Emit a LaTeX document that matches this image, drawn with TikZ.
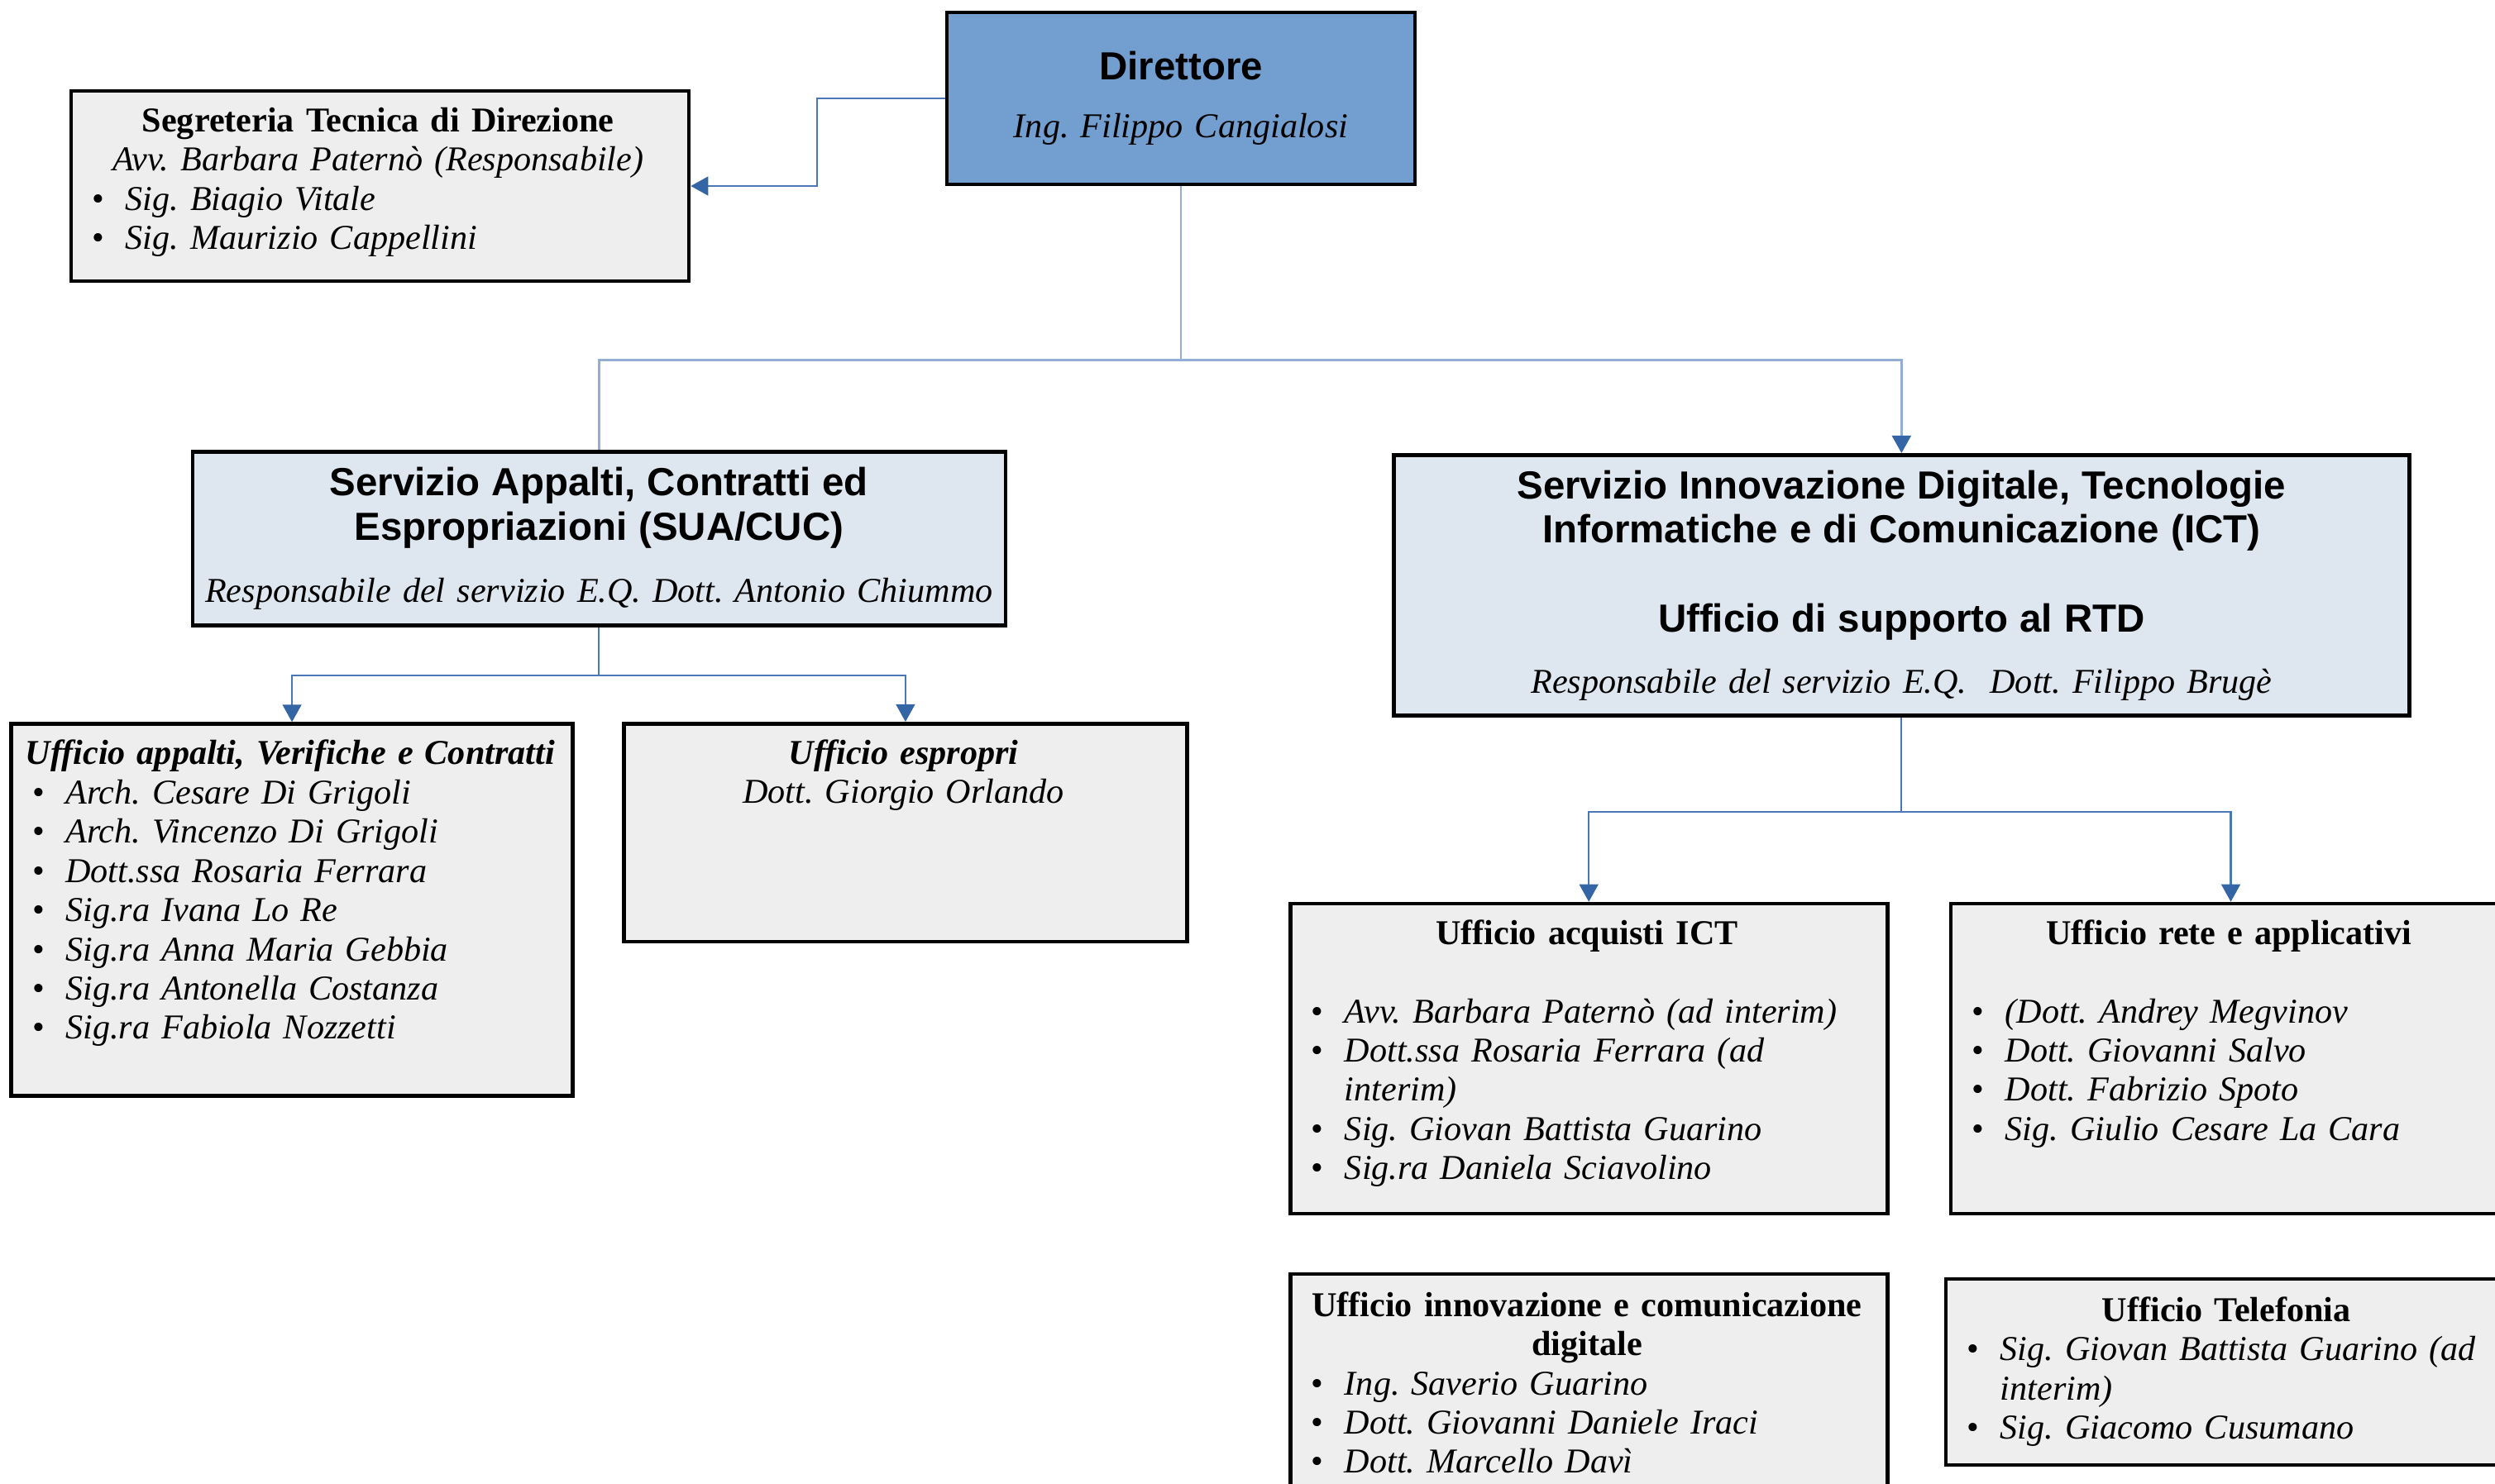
\documentclass[tikz,border=0pt]{standalone}
\usepackage{fontspec}
\setmainfont{Liberation Serif}
\newfontfamily\headfont{Liberation Sans}
\usepackage{tikz}
\usetikzlibrary{positioning,arrows.meta}
\frenchspacing

\definecolor{dirblue}{RGB}{114,159,207}
\definecolor{svcblue}{RGB}{222,230,239}
\definecolor{offgray}{RGB}{238,238,238}
\definecolor{linkblue}{RGB}{74,120,182}
\definecolor{trunkblue}{RGB}{146,174,212}
\definecolor{tipblue}{RGB}{52,101,164}

% list helpers for the office boxes
\newlength{\itmind}\setlength{\itmind}{0.48cm}
\newcommand{\ttl}[1]{\par\noindent\hbox to\hsize{\hss#1\hss}}
\newcommand{\itm}[1]{\par\noindent\hangindent=\itmind\hangafter=1%
  \hbox to\itmind{\hskip0.08cm\textbullet\hfil}{\itshape #1}}
\newcommand{\headline}{\headfont\bfseries\fontsize{13.5}{15.3}\selectfont}

\begin{document}
\begin{tikzpicture}[
    box/.style={draw, line width=1.3pt, inner sep=0pt, align=center,
                font=\fontsize{12}{13.5}\selectfont},
    headbox/.style={box, fill=dirblue},
    svcbox/.style={box, fill=svcblue},
    offbox/.style={box, fill=offgray},
    offtxt/.style={inner sep=0pt, outer sep=0pt, text width=#1, align=left,
                   font=\fontsize{12}{13.5}\selectfont},
    tip/.style={-{Triangle[length=6pt,width=6.5pt,color=tipblue]}},
    trunk/.style={draw=trunkblue, line width=0.8pt},
    link/.style={draw=linkblue, line width=0.6pt},
]
\useasboundingbox (0,0) rectangle (30.17,-17.94);
\clip (0,0) rectangle (30.17,-17.94);

% =============================================
% Direzione
% =============================================
\node[headbox, minimum width=5.66cm, minimum height=2.08cm, text width=5.5cm]
    at (14.28,-1.19) (dir)
    {{\headline Direttore\par}\vspace{6.5pt}\textit{Ing. Filippo Cangialosi}};

\node[offbox, minimum width=7.47cm, minimum height=2.30cm] at (4.595,-2.25) (seg) {};
\node[offtxt=7.07cm, below right=0.04cm and 0.2cm of seg.north west] (segtxt)
    {\ttl{\bfseries Segreteria Tecnica di Direzione}
     \ttl{\itshape Avv. Barbara Patern\`o (Responsabile)}
     \itm{Sig. Biagio Vitale}
     \itm{Sig. Maurizio Cappellini}};

\draw[link, tip] (dir.west) -- ++(-1.55,0) |- (seg.east);

% =============================================
% Servizi
% =============================================
\node[svcbox, minimum width=9.83cm, minimum height=2.10cm, text width=9.75cm]
    at (7.244,-6.513) (sua)
    {{\headline Servizio Appalti, Contratti ed\\ Espropriazioni (SUA/CUC)\par}
     \vspace{8pt}\textit{Responsabile del servizio E.Q. Dott. Antonio Chiummo}};

\node[svcbox, minimum width=12.28cm, minimum height=3.155cm, text width=12.1cm]
    at (22.993,-7.08) (ict)
    {{\headline Servizio Innovazione Digitale, Tecnologie\\
      Informatiche e di Comunicazione (ICT)\\[15.3pt]
      Ufficio di supporto al RTD\par}
     \vspace{7.5pt}\textit{Responsabile del servizio E.Q.\ \ Dott. Filippo Brug\`e}};

\draw[trunk] (dir.south) -- ++(0,-2.10) coordinate (dirjoin);
\draw[trunk] (dirjoin) -| (sua.north);
\draw[trunk, tip] (dirjoin) -| (ict.north);

% =============================================
% Uffici SUA/CUC
% =============================================
\node[offbox, minimum width=6.79cm, minimum height=4.50cm] at (3.531,-11.006) (app) {};
\node[offtxt=6.39cm, below right=0.04cm and 0.2cm of app.north west] (apptxt)
    {\ttl{\bfseries\itshape Ufficio appalti, Verifiche e Contratti}
     \itm{Arch. Cesare Di Grigoli}
     \itm{Arch. Vincenzo Di Grigoli}
     \itm{Dott.ssa Rosaria Ferrara}
     \itm{Sig.ra Ivana Lo Re}
     \itm{Sig.ra Anna Maria Gebbia}
     \itm{Sig.ra Antonella Costanza}
     \itm{Sig.ra Fabiola Nozzetti}};

\node[offbox, minimum width=6.81cm, minimum height=2.635cm] at (10.949,-10.07) (esp) {};
\node[offtxt=6.41cm, below right=0.04cm and 0.2cm of esp.north west] (esptxt)
    {\ttl{\bfseries\itshape Ufficio espropri}
     \ttl{\itshape Dott. Giorgio Orlando}};

\draw[link] (sua.south) -- ++(0,-0.58) coordinate (suajoin);
\draw[link, tip] (suajoin) -| (app.north);
\draw[link, tip] (suajoin) -| (esp.north);

% =============================================
% Uffici ICT
% =============================================
\node[offbox, minimum width=7.22cm, minimum height=3.75cm] at (19.212,-12.805) (acq) {};
\node[offtxt=6.82cm, below right=0.04cm and 0.2cm of acq.north west] (acqtxt)
    {\ttl{\bfseries Ufficio acquisti ICT}\par\vspace{13.5pt}
     \itm{Avv. Barbara Patern\`o (ad interim)}
     \itm{Dott.ssa Rosaria Ferrara (ad\newline interim)}
     \itm{Sig. Giovan Battista Guarino}
     \itm{Sig.ra Daniela Sciavolino}};

\node[offbox, minimum width=6.77cm, minimum height=3.75cm] at (26.975,-12.805) (rete) {};
\node[offtxt=6.37cm, below right=0.04cm and 0.2cm of rete.north west] (retetxt)
    {\ttl{\bfseries Ufficio rete e applicativi}\par\vspace{13.5pt}
     \itm{(Dott. Andrey Megvinov}
     \itm{Dott. Giovanni Salvo}
     \itm{Dott. Fabrizio Spoto}
     \itm{Sig. Giulio Cesare La Cara}};

\draw[link] (ict.south) -- ++(0,-1.14) coordinate (ictjoin);
\draw[link, tip] (ictjoin) -| (acq.north);
\draw[link, tip] (ictjoin) -| (rete.north);

\node[offbox, minimum width=7.22cm, minimum height=3.0cm] at (19.212,-16.91) (inn) {};
\node[offtxt=6.82cm, below right=0.06cm and 0.2cm of inn.north west] (inntxt)
    {\ttl{\bfseries Ufficio innovazione e comunicazione}
     \ttl{\bfseries digitale}
     \itm{Ing. Saverio Guarino}
     \itm{Dott. Giovanni Daniele Iraci}
     \itm{Dott. Marcello Dav\`i}};

\node[offbox, minimum width=6.83cm, minimum height=2.25cm] at (26.945,-16.595) (tel) {};
\node[offtxt=6.43cm, below right=0.06cm and 0.2cm of tel.north west] (teltxt)
    {\ttl{\bfseries Ufficio Telefonia}
     \itm{Sig. Giovan Battista Guarino (ad\newline interim)}
     \itm{Sig. Giacomo Cusumano}};

\end{tikzpicture}
\end{document}
